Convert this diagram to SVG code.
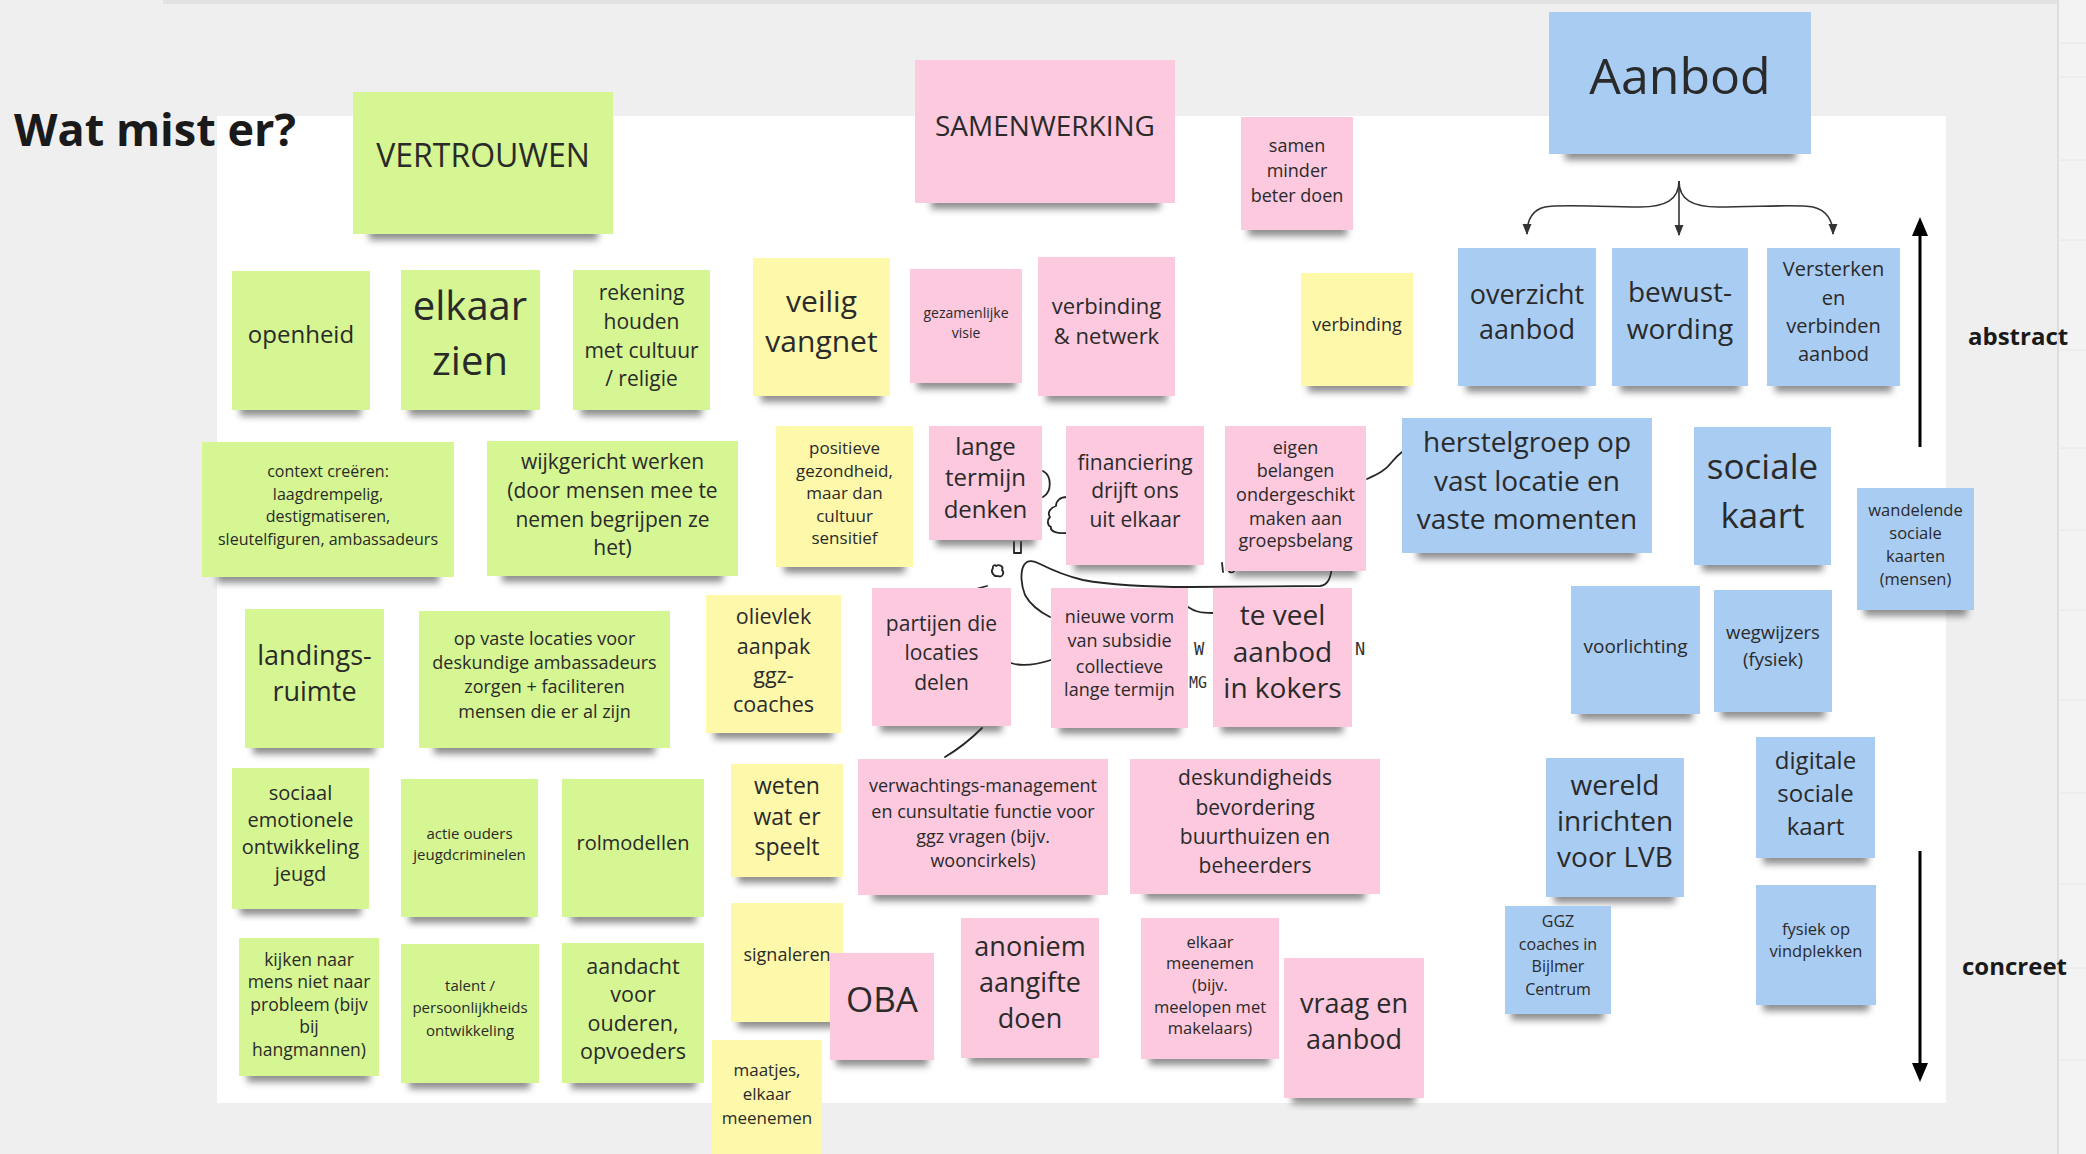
<svg xmlns="http://www.w3.org/2000/svg" width="2086" height="1154" viewBox="0 0 2086 1154">
<defs>
<filter id="bl" x="-20%" y="-150%" width="140%" height="400%"><feGaussianBlur stdDeviation="3.5"/></filter>
<marker id="ah" viewBox="0 0 10 10" refX="9" refY="5" markerWidth="7" markerHeight="7" orient="auto"><path d="M0,1 L10,5 L0,9 z" fill="#333"/></marker>
<style>
.g{fill:#d5f692}.p{fill:#fcc9de}.y{fill:#fdf8aa}.b{fill:#a9ccf3}
.sh{fill:#333;opacity:.55;filter:url(#bl)}
text{font-family:"Open Sans","Liberation Sans",sans-serif;fill:#2a2a2a;text-anchor:middle}
.bold{font-weight:700;fill:#1a1a1a;text-anchor:start}
.hd{fill:none;stroke:#262626;stroke-width:1.8;stroke-linecap:round;stroke-linejoin:round}
.hw{font-family:"DejaVu Sans Mono","Liberation Mono",monospace;fill:#333;text-anchor:start}
.br{fill:none;stroke:#333;stroke-width:1.6}
.ax{stroke:#000;stroke-width:3}
</style>
</defs>
<rect x="0" y="0" width="2086" height="1154" fill="#efefef"/>
<rect x="163" y="0" width="1895" height="4" fill="#e2e2e2"/>
<rect x="2058" y="0" width="28" height="1154" fill="#f3f3f3"/>
<line x1="2058" y1="0" x2="2058" y2="1154" stroke="#dedede" stroke-width="2"/>
<g stroke="#e6e6e6" stroke-width="1">
<line x1="2060" y1="43" x2="2086" y2="43"/><line x1="2060" y1="77" x2="2086" y2="77"/><line x1="2060" y1="160" x2="2086" y2="160"/><line x1="2060" y1="240" x2="2086" y2="240"/><line x1="2060" y1="350" x2="2086" y2="350"/><line x1="2060" y1="448" x2="2086" y2="448"/><line x1="2060" y1="530" x2="2086" y2="530"/><line x1="2060" y1="610" x2="2086" y2="610"/><line x1="2060" y1="700" x2="2086" y2="700"/><line x1="2060" y1="793" x2="2086" y2="793"/><line x1="2060" y1="884" x2="2086" y2="884"/><line x1="2060" y1="968" x2="2086" y2="968"/><line x1="2060" y1="1060" x2="2086" y2="1060"/>
</g>
<rect x="217" y="116" width="1729" height="987" fill="#ffffff"/>

<text class="bold" x="14" y="146" font-size="45">Wat mist er?</text>
<text class="bold" x="1968" y="345" font-size="24">abstract</text>
<text class="bold" x="1962" y="975" font-size="24">concreet</text>

<g id="connectors">
<path class="br" d="M1679,181 C1679,200 1665,207 1640,207 C1600,207 1560,204 1545,207 C1532,210 1527,220 1527,234" marker-end="url(#ah)"/>
<path class="br" d="M1679,181 L1679,235" marker-end="url(#ah)"/>
<path class="br" d="M1679,181 C1679,200 1693,207 1718,207 C1758,207 1798,204 1813,207 C1826,210 1833,220 1833,234" marker-end="url(#ah)"/>
<line class="ax" x1="1920" y1="447" x2="1920" y2="232"/>
<polygon points="1920,217 1912,236 1928,236" fill="#000"/>
<line class="ax" x1="1920" y1="851" x2="1920" y2="1066"/>
<polygon points="1920,1082 1912,1063 1928,1063" fill="#000"/>
<path class="hd" d="M1043,471 C1052,476 1052,492 1043,497"/>
<path class="hd" d="M1067,497 C1060,497 1056,501 1056,506 C1050,508 1047,513 1050,517 C1047,520 1047,525 1051,527 C1050,531 1056,534 1067,533"/>
<path class="hd" d="M1014,542 L1014,553 L1021,553 L1021,542"/>
<path class="hd" d="M993,568 C990,572 994,577 998,576 C1002,578 1005,573 1002,570 C1004,566 999,564 996,566 C995,564 992,566 993,568 Z"/>
<path class="hd" d="M1050,617 C1040,612 1030,604 1025,595 C1021,585 1020,572 1024,565 C1028,559 1034,561 1040,564 C1052,570 1066,576 1083,580 C1110,585 1150,587 1190,587 L1320,586 C1329,585 1331,576 1332,566"/>
<path class="hd" d="M1188,607 C1194,611 1199,613 1213,613"/>
<path class="hd" d="M1011,663 C1020,666 1032,666 1051,660"/>
<path class="hd" d="M982,728 C972,738 962,747 945,757"/>
<path class="hd" d="M972,590 L987,586"/>
<path class="hd" d="M1367,479 C1378,474 1386,470 1391,463 C1395,458 1398,455 1402,452"/>
<path class="hd" d="M1226,544 L1226,551"/>
<path class="hd" d="M1222,563 L1223,572 M1230,567 C1227,569 1229,574 1233,572 C1236,570 1234,566 1230,567 M1240,566 L1241,565"/>
<text class="hw" x="1194" y="655" font-size="17">W</text>
<text class="hw" x="1189" y="688" font-size="15">MG</text>
<text class="hw" x="1355" y="655" font-size="17">N</text>
</g>

<g id="n-vertrouwen"><rect class="sh" x="369" y="225" width="229" height="15"/><rect class="g" x="353" y="92" width="260" height="142"/><text font-size="32" x="483" y="167">VERTROUWEN</text></g>
<g id="n-samenwerking"><rect class="sh" x="931" y="194" width="229" height="15"/><rect class="p" x="915" y="60" width="260" height="143"/><text font-size="28" x="1045" y="136">SAMENWERKING</text></g>
<g id="n-samen-minder"><rect class="sh" x="1248" y="221" width="99" height="15"/><rect class="p" x="1241" y="117" width="112" height="113"/><text font-size="18"><tspan x="1297" y="152">samen</tspan><tspan x="1297" y="177">minder</tspan><tspan x="1297" y="202">beter doen</tspan></text></g>
<g id="n-aanbod"><rect class="sh" x="1565" y="145" width="231" height="15"/><rect class="b" x="1549" y="12" width="262" height="142"/><text font-size="50" x="1680" y="94">Aanbod</text></g>
<g id="n-openheid"><rect class="sh" x="240" y="401" width="121" height="15"/><rect class="g" x="232" y="271" width="138" height="139"/><text font-size="24" x="301" y="343">openheid</text></g>
<g id="n-elkaar-zien"><rect class="sh" x="409" y="401" width="122" height="15"/><rect class="g" x="401" y="270" width="139" height="140"/><text font-size="40"><tspan x="470" y="320">elkaar</tspan><tspan x="470" y="375">zien</tspan></text></g>
<g id="n-rekening"><rect class="sh" x="581" y="401" width="121" height="15"/><rect class="g" x="573" y="270" width="137" height="140"/><text font-size="21"><tspan x="641.5" y="300">rekening</tspan><tspan x="641.5" y="329">houden</tspan><tspan x="641.5" y="358">met cultuur</tspan><tspan x="641.5" y="386">/ religie</tspan></text></g>
<g id="n-veilig"><rect class="sh" x="761" y="387" width="121" height="15"/><rect class="y" x="753" y="258" width="137" height="138"/><text font-size="30"><tspan x="821.5" y="312">veilig</tspan><tspan x="821.5" y="352">vangnet</tspan></text></g>
<g id="n-gezamenlijke"><rect class="sh" x="917" y="374" width="99" height="15"/><rect class="p" x="910" y="269" width="112" height="114"/><text font-size="14"><tspan x="966" y="318">gezamenlijke</tspan><tspan x="966" y="338">visie</tspan></text></g>
<g id="n-verbinding-netwerk"><rect class="sh" x="1046" y="387" width="121" height="15"/><rect class="p" x="1038" y="257" width="137" height="139"/><text font-size="22"><tspan x="1106.5" y="314">verbinding</tspan><tspan x="1106.5" y="344">&amp; netwerk</tspan></text></g>
<g id="n-verbinding"><rect class="sh" x="1308" y="377" width="99" height="15"/><rect class="y" x="1301" y="273" width="112" height="113"/><text font-size="18" x="1357" y="331">verbinding</text></g>
<g id="n-overzicht"><rect class="sh" x="1466" y="377" width="121" height="15"/><rect class="b" x="1458" y="248" width="138" height="138"/><text font-size="27"><tspan x="1527" y="304">overzicht</tspan><tspan x="1527" y="339">aanbod</tspan></text></g>
<g id="n-bewustwording"><rect class="sh" x="1620" y="377" width="120" height="15"/><rect class="b" x="1612" y="248" width="136" height="138"/><text font-size="28"><tspan x="1680" y="302">bewust-</tspan><tspan x="1680" y="339">wording</tspan></text></g>
<g id="n-versterken"><rect class="sh" x="1775" y="377" width="117" height="15"/><rect class="b" x="1767" y="248" width="133" height="138"/><text font-size="20"><tspan x="1833.5" y="276">Versterken</tspan><tspan x="1833.5" y="305">en</tspan><tspan x="1833.5" y="333">verbinden</tspan><tspan x="1833.5" y="361">aanbod</tspan></text></g>
<g id="n-context"><rect class="sh" x="217" y="568" width="222" height="15"/><rect class="g" x="202" y="442" width="252" height="135"/><text font-size="16"><tspan x="328" y="477">context creëren:</tspan><tspan x="328" y="500">laagdrempelig,</tspan><tspan x="328" y="522">destigmatiseren,</tspan><tspan x="328" y="545">sleutelfiguren, ambassadeurs</tspan></text></g>
<g id="n-wijkgericht"><rect class="sh" x="502" y="567" width="221" height="15"/><rect class="g" x="487" y="441" width="251" height="135"/><text font-size="21"><tspan x="612.5" y="469">wijkgericht werken</tspan><tspan x="612.5" y="498">(door mensen mee te</tspan><tspan x="612.5" y="527">nemen begrijpen ze</tspan><tspan x="612.5" y="555">het)</tspan></text></g>
<g id="n-positieve"><rect class="sh" x="784" y="558" width="121" height="15"/><rect class="y" x="776" y="426" width="137" height="141"/><text font-size="17"><tspan x="844.5" y="454">positieve</tspan><tspan x="844.5" y="477">gezondheid,</tspan><tspan x="844.5" y="499">maar dan</tspan><tspan x="844.5" y="522">cultuur</tspan><tspan x="844.5" y="544">sensitief</tspan></text></g>
<g id="n-lange-termijn"><rect class="sh" x="936" y="531" width="99" height="15"/><rect class="p" x="929" y="426" width="113" height="114"/><text font-size="24"><tspan x="985.5" y="455">lange</tspan><tspan x="985.5" y="486">termijn</tspan><tspan x="985.5" y="518">denken</tspan></text></g>
<g id="n-financiering"><rect class="sh" x="1074" y="556" width="121" height="15"/><rect class="p" x="1066" y="426" width="138" height="139"/><text font-size="21"><tspan x="1135" y="470">financiering</tspan><tspan x="1135" y="498">drijft ons</tspan><tspan x="1135" y="527">uit elkaar</tspan></text></g>
<g id="n-eigen-belangen"><rect class="sh" x="1233" y="562" width="124" height="15"/><rect class="p" x="1225" y="426" width="141" height="145"/><text font-size="18"><tspan x="1295.5" y="454">eigen</tspan><tspan x="1295.5" y="477">belangen</tspan><tspan x="1295.5" y="501">ondergeschikt</tspan><tspan x="1295.5" y="525">maken aan</tspan><tspan x="1295.5" y="547">groepsbelang</tspan></text></g>
<g id="n-herstelgroep"><rect class="sh" x="1417" y="544" width="220" height="15"/><rect class="b" x="1402" y="418" width="250" height="135"/><text font-size="28"><tspan x="1527" y="452">herstelgroep op</tspan><tspan x="1527" y="491">vast locatie en</tspan><tspan x="1527" y="529">vaste momenten</tspan></text></g>
<g id="n-sociale-kaart"><rect class="sh" x="1702" y="556" width="121" height="15"/><rect class="b" x="1694" y="427" width="137" height="138"/><text font-size="35"><tspan x="1762.5" y="479">sociale</tspan><tspan x="1762.5" y="528">kaart</tspan></text></g>
<g id="n-wandelende"><rect class="sh" x="1864" y="601" width="103" height="15"/><rect class="b" x="1857" y="488" width="117" height="122"/><text font-size="16.5"><tspan x="1915.5" y="516">wandelende</tspan><tspan x="1915.5" y="539">sociale</tspan><tspan x="1915.5" y="562">kaarten</tspan><tspan x="1915.5" y="585">(mensen)</tspan></text></g>
<g id="n-landingsruimte"><rect class="sh" x="253" y="739" width="122" height="15"/><rect class="g" x="245" y="609" width="139" height="139"/><text font-size="27"><tspan x="314.5" y="665">landings-</tspan><tspan x="314.5" y="701">ruimte</tspan></text></g>
<g id="n-op-vaste-locaties"><rect class="sh" x="434" y="739" width="221" height="15"/><rect class="g" x="419" y="611" width="251" height="137"/><text font-size="18"><tspan x="544.5" y="645">op vaste locaties voor</tspan><tspan x="544.5" y="669">deskundige ambassadeurs</tspan><tspan x="544.5" y="693">zorgen + faciliteren</tspan><tspan x="544.5" y="718">mensen die er al zijn</tspan></text></g>
<g id="n-olievlek"><rect class="sh" x="714" y="724" width="119" height="15"/><rect class="y" x="706" y="595" width="135" height="138"/><text font-size="21.5"><tspan x="773.5" y="624">olievlek</tspan><tspan x="773.5" y="654">aanpak</tspan><tspan x="773.5" y="683">ggz-</tspan><tspan x="773.5" y="712">coaches</tspan></text></g>
<g id="n-partijen"><rect class="sh" x="880" y="717" width="122" height="15"/><rect class="p" x="872" y="588" width="139" height="138"/><text font-size="21"><tspan x="941.5" y="631">partijen die</tspan><tspan x="941.5" y="660">locaties</tspan><tspan x="941.5" y="690">delen</tspan></text></g>
<g id="n-nieuwe-vorm"><rect class="sh" x="1059" y="719" width="121" height="15"/><rect class="p" x="1051" y="588" width="137" height="140"/><text font-size="18"><tspan x="1119.5" y="623">nieuwe vorm</tspan><tspan x="1119.5" y="647">van subsidie</tspan><tspan x="1119.5" y="673">collectieve</tspan><tspan x="1119.5" y="696">lange termijn</tspan></text></g>
<g id="n-te-veel-aanbod"><rect class="sh" x="1221" y="718" width="122" height="15"/><rect class="p" x="1213" y="588" width="139" height="139"/><text font-size="28"><tspan x="1282.5" y="625">te veel</tspan><tspan x="1282.5" y="662">aanbod</tspan><tspan x="1282.5" y="698">in kokers</tspan></text></g>
<g id="n-voorlichting"><rect class="sh" x="1579" y="705" width="114" height="15"/><rect class="b" x="1571" y="586" width="129" height="128"/><text font-size="19" x="1635.5" y="653">voorlichting</text></g>
<g id="n-wegwijzers"><rect class="sh" x="1721" y="703" width="104" height="15"/><rect class="b" x="1714" y="590" width="118" height="122"/><text font-size="18.5"><tspan x="1773" y="639">wegwijzers</tspan><tspan x="1773" y="666">(fysiek)</tspan></text></g>
<g id="n-sociaal-emotionele"><rect class="sh" x="240" y="900" width="121" height="15"/><rect class="g" x="232" y="768" width="137" height="141"/><text font-size="20"><tspan x="300.5" y="800">sociaal</tspan><tspan x="300.5" y="827">emotionele</tspan><tspan x="300.5" y="854">ontwikkeling</tspan><tspan x="300.5" y="881">jeugd</tspan></text></g>
<g id="n-actie-ouders"><rect class="sh" x="409" y="908" width="121" height="15"/><rect class="g" x="401" y="779" width="137" height="138"/><text font-size="15"><tspan x="469.5" y="839">actie ouders</tspan><tspan x="469.5" y="860">jeugdcriminelen</tspan></text></g>
<g id="n-rolmodellen"><rect class="sh" x="571" y="908" width="125" height="15"/><rect class="g" x="562" y="779" width="142" height="138"/><text font-size="20" x="633" y="850">rolmodellen</text></g>
<g id="n-weten"><rect class="sh" x="738" y="868" width="99" height="15"/><rect class="y" x="731" y="764" width="112" height="113"/><text font-size="23"><tspan x="787" y="794">weten</tspan><tspan x="787" y="825">wat er</tspan><tspan x="787" y="855">speelt</tspan></text></g>
<g id="n-verwachtings"><rect class="sh" x="873" y="886" width="220" height="15"/><rect class="p" x="858" y="759" width="250" height="136"/><text font-size="18"><tspan x="983" y="792">verwachtings-management</tspan><tspan x="983" y="818">en cunsultatie functie voor</tspan><tspan x="983" y="843">ggz vragen (bijv.</tspan><tspan x="983" y="867">wooncirkels)</tspan></text></g>
<g id="n-deskundigheids"><rect class="sh" x="1145" y="885" width="220" height="15"/><rect class="p" x="1130" y="759" width="250" height="135"/><text font-size="21"><tspan x="1255" y="785">deskundigheids</tspan><tspan x="1255" y="815">bevordering</tspan><tspan x="1255" y="844">buurthuizen en</tspan><tspan x="1255" y="873">beheerders</tspan></text></g>
<g id="n-wereld"><rect class="sh" x="1554" y="888" width="121" height="15"/><rect class="b" x="1546" y="758" width="138" height="139"/><text font-size="28"><tspan x="1615" y="795">wereld</tspan><tspan x="1615" y="831">inrichten</tspan><tspan x="1615" y="867">voor LVB</tspan></text></g>
<g id="n-digitale"><rect class="sh" x="1763" y="849" width="105" height="15"/><rect class="b" x="1756" y="737" width="119" height="121"/><text font-size="24"><tspan x="1815.5" y="769">digitale</tspan><tspan x="1815.5" y="802">sociale</tspan><tspan x="1815.5" y="835">kaart</tspan></text></g>
<g id="n-kijken"><rect class="sh" x="247" y="1067" width="123" height="15"/><rect class="g" x="239" y="938" width="140" height="138"/><text font-size="17.5"><tspan x="309" y="966">kijken naar</tspan><tspan x="309" y="988">mens niet naar</tspan><tspan x="309" y="1011">probleem (bijv</tspan><tspan x="309" y="1033">bij</tspan><tspan x="309" y="1056">hangmannen)</tspan></text></g>
<g id="n-talent"><rect class="sh" x="409" y="1074" width="121" height="15"/><rect class="g" x="401" y="944" width="138" height="139"/><text font-size="15"><tspan x="470" y="991">talent /</tspan><tspan x="470" y="1013">persoonlijkheids</tspan><tspan x="470" y="1036">ontwikkeling</tspan></text></g>
<g id="n-aandacht"><rect class="sh" x="571" y="1074" width="125" height="15"/><rect class="g" x="562" y="943" width="142" height="140"/><text font-size="21.5"><tspan x="633" y="974">aandacht</tspan><tspan x="633" y="1002">voor</tspan><tspan x="633" y="1031">ouderen,</tspan><tspan x="633" y="1059">opvoeders</tspan></text></g>
<g id="n-signaleren"><rect class="sh" x="738" y="1013" width="99" height="15"/><rect class="y" x="731" y="903" width="112" height="119"/><text font-size="18" x="787" y="961">signaleren</text></g>
<g id="n-oba"><rect class="sh" x="836" y="1051" width="92" height="15"/><rect class="p" x="830" y="953" width="104" height="107"/><text font-size="35" x="882" y="1012">OBA</text></g>
<g id="n-anoniem"><rect class="sh" x="969" y="1049" width="121" height="15"/><rect class="p" x="961" y="918" width="138" height="140"/><text font-size="27"><tspan x="1030" y="956">anoniem</tspan><tspan x="1030" y="992">aangifte</tspan><tspan x="1030" y="1028">doen</tspan></text></g>
<g id="n-elkaar-meenemen"><rect class="sh" x="1149" y="1050" width="121" height="15"/><rect class="p" x="1141" y="918" width="138" height="141"/><text font-size="16.5"><tspan x="1210" y="948">elkaar</tspan><tspan x="1210" y="969">meenemen</tspan><tspan x="1210" y="991">(bijv.</tspan><tspan x="1210" y="1013">meelopen met</tspan><tspan x="1210" y="1034">makelaars)</tspan></text></g>
<g id="n-vraag-aanbod"><rect class="sh" x="1292" y="1089" width="123" height="15"/><rect class="p" x="1284" y="958" width="140" height="140"/><text font-size="27"><tspan x="1354" y="1013">vraag en</tspan><tspan x="1354" y="1049">aanbod</tspan></text></g>
<g id="n-maatjes"><rect class="y" x="712" y="1040" width="110" height="118"/><text font-size="17"><tspan x="767" y="1076">maatjes,</tspan><tspan x="767" y="1100">elkaar</tspan><tspan x="767" y="1124">meenemen</tspan></text></g>
<g id="n-ggz-coaches"><rect class="sh" x="1511" y="1005" width="93" height="15"/><rect class="b" x="1505" y="906" width="106" height="108"/><text font-size="16"><tspan x="1558" y="927">GGZ</tspan><tspan x="1558" y="950">coaches in</tspan><tspan x="1558" y="972">Bijlmer</tspan><tspan x="1558" y="995">Centrum</tspan></text></g>
<g id="n-fysiek"><rect class="sh" x="1763" y="996" width="106" height="15"/><rect class="b" x="1756" y="885" width="120" height="120"/><text font-size="16.5"><tspan x="1816" y="935">fysiek op</tspan><tspan x="1816" y="957">vindplekken</tspan></text></g>
</svg>
